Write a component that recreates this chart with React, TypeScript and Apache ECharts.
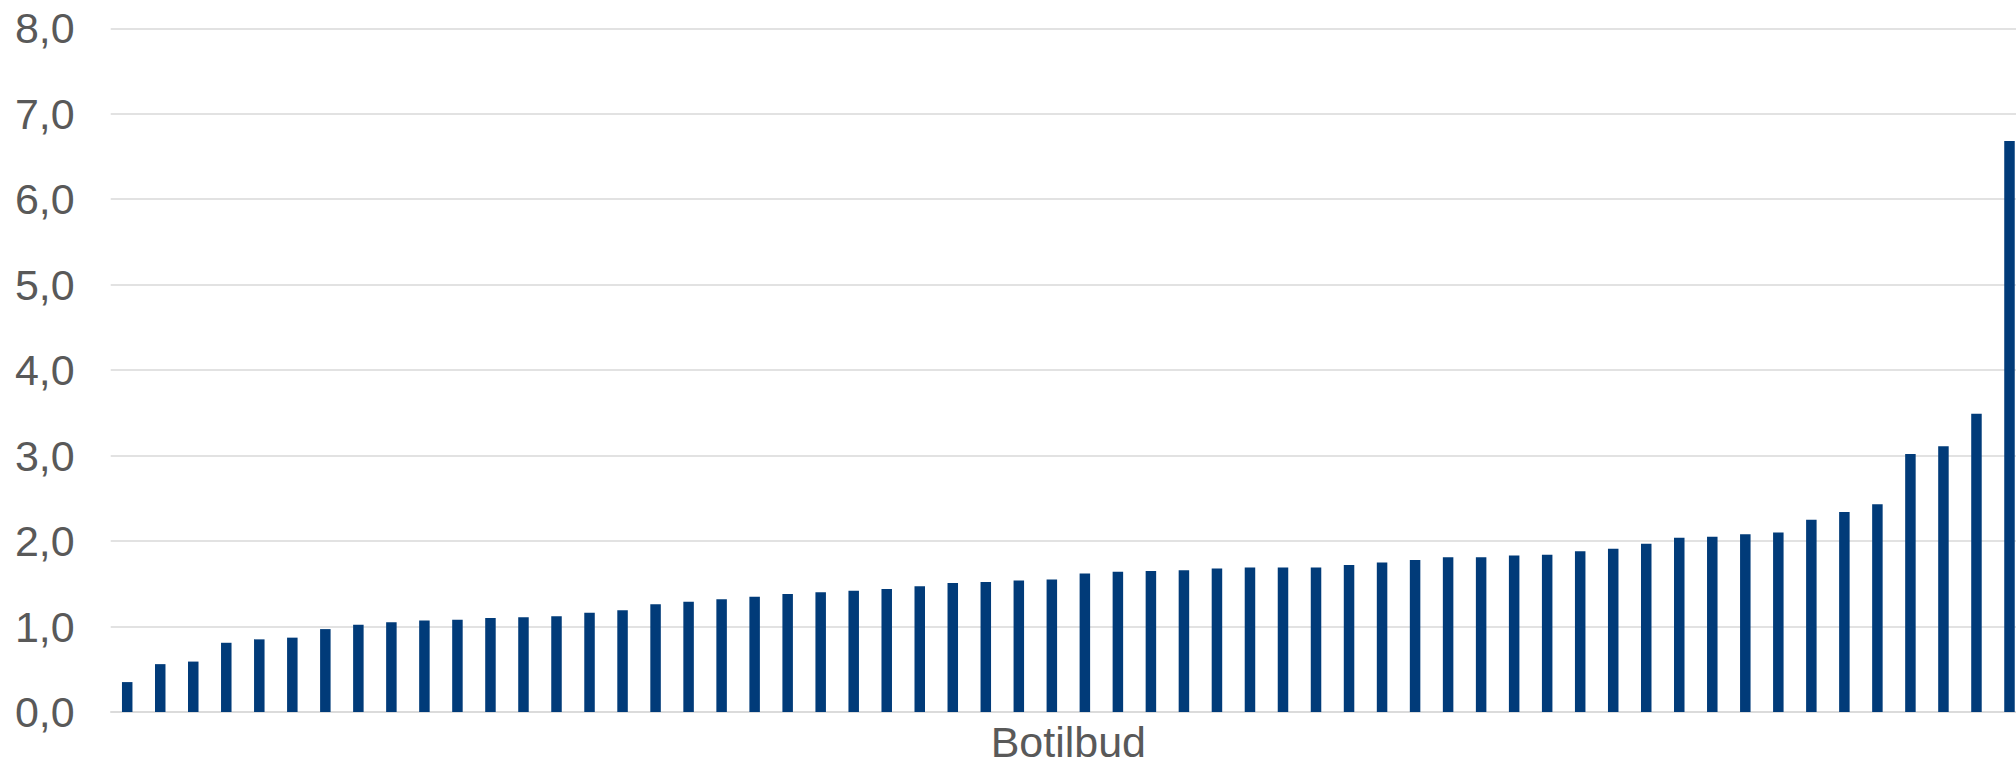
import React, { useEffect, useRef } from "react";
import * as echarts from "echarts";

const categories: string[] = Array.from({ length: 58 }, (_, i) => `Botilbud ${i + 1}`);

const values: number[] = [
  0.35, 0.56, 0.59, 0.81, 0.85, 0.87, 0.97, 1.02, 1.05, 1.07,
  1.08, 1.10, 1.11, 1.12, 1.16, 1.19, 1.26, 1.29, 1.32, 1.35,
  1.38, 1.40, 1.42, 1.44, 1.47, 1.51, 1.52, 1.54, 1.55, 1.62,
  1.64, 1.65, 1.66, 1.68, 1.69, 1.69, 1.69, 1.72, 1.75, 1.78,
  1.81, 1.81, 1.83, 1.84, 1.88, 1.91, 1.97, 2.04, 2.05, 2.08,
  2.10, 2.25, 2.34, 2.43, 3.02, 3.11, 3.49, 6.68,
];

const xAxisTitle = "Botilbud";
const yMin = 0;
const yMax = 8;
const yInterval = 1;

export default function App() {
  const ref = useRef<HTMLDivElement>(null);

  useEffect(() => {
    if (!ref.current) return;
    const chart = echarts.init(ref.current, undefined, { renderer: "svg" });
    chart.setOption({
      animation: false,
      backgroundColor: "#ffffff",
      grid: { left: 110.7, right: 0, top: 28.3, bottom: 49, containLabel: false },
      xAxis: {
        type: "category",
        data: categories,
        name: xAxisTitle,
        nameLocation: "middle",
        nameGap: 8,
        nameTextStyle: { fontFamily: "Liberation Sans, Arial, sans-serif", fontSize: 43, color: "#595959" },
        axisLine: { show: true, lineStyle: { color: "#d9d9d9", width: 1.5 } },
        axisTick: { show: false },
        axisLabel: { show: false },
      },
      yAxis: {
        type: "value",
        min: yMin,
        max: yMax,
        interval: yInterval,
        axisLine: { show: false },
        axisTick: { show: false },
        splitLine: { show: true, lineStyle: { color: "#d9d9d9", width: 1.5 } },
        axisLabel: {
          margin: 36,
          fontFamily: "Liberation Sans, Arial, sans-serif",
          fontSize: 43,
          color: "#595959",
          formatter: (v: number) => v.toFixed(1).replace(".", ","),
        },
      },
      series: [
        {
          type: "bar",
          data: values,
          barWidth: 10.5,
          itemStyle: { color: "#013b79" },
        },
      ],
    });
    return () => chart.dispose();
  }, []);

  return (
    <div
      style={{ position: "fixed", left: 0, top: 0, width: 2016, height: 768, overflow: "hidden", background: "#fff" }}
    >
      <div ref={ref} style={{ width: 2026, height: 768 }} />
    </div>
  );
}
